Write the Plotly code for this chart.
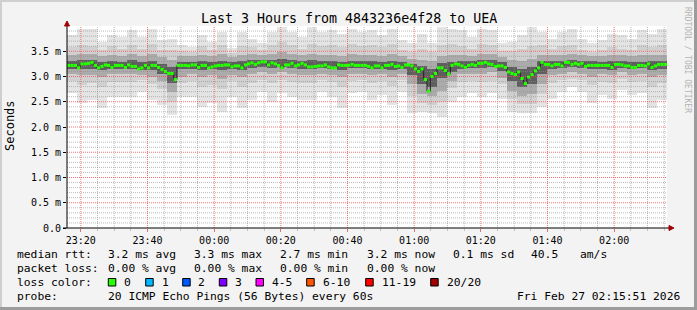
import plotly.graph_objects as go
import pandas as pd

# ---------------- data ----------------
START = "2026-02-26 23:15:51"
END = "2026-02-27 02:15:51"

# median RTT (ms), one value per minute (180 steps)
median_rtt = [
    3.22, 3.22, 3.22, 3.17, 3.25, 3.25, 3.26, 3.28, 3.22, 3.17,
    3.20, 3.23, 3.22, 3.18, 3.22, 3.22, 3.22, 3.18, 3.23, 3.20,
    3.20, 3.15, 3.17, 3.22, 3.17, 3.22, 3.22, 3.18, 3.14, 3.10,
    3.06, 3.06, 2.94, 3.22, 3.22, 3.22, 3.21, 3.23, 3.23, 3.18,
    3.22, 3.22, 3.17, 3.19, 3.21, 3.22, 3.22, 3.23, 3.23, 3.19,
    3.21, 3.21, 3.17, 3.23, 3.25, 3.27, 3.24, 3.27, 3.29, 3.29,
    3.23, 3.27, 3.25, 3.22, 3.17, 3.23, 3.23, 3.26, 3.21, 3.23,
    3.26, 3.23, 3.19, 3.19, 3.20, 3.21, 3.21, 3.23, 3.19, 3.17,
    3.17, 3.23, 3.22, 3.22, 3.22, 3.24, 3.22, 3.22, 3.22, 3.22,
    3.20, 3.17, 3.21, 3.21, 3.17, 3.22, 3.22, 3.24, 3.20, 3.21,
    3.18, 3.23, 3.23, 3.21, 3.15, 3.10, 3.15, 2.94, 2.71, 3.00,
    3.06, 3.17, 3.17, 3.12, 3.05, 3.22, 3.25, 3.24, 3.21, 3.18,
    3.22, 3.24, 3.22, 3.26, 3.26, 3.28, 3.25, 3.24, 3.20, 3.21,
    3.21, 3.18, 3.09, 3.06, 3.04, 3.09, 2.96, 2.86, 2.99, 3.04,
    3.11, 3.17, 3.28, 3.24, 3.24, 3.21, 3.24, 3.24, 3.21, 3.28,
    3.28, 3.24, 3.26, 3.24, 3.26, 3.20, 3.22, 3.22, 3.22, 3.22,
    3.22, 3.22, 3.22, 3.18, 3.24, 3.24, 3.23, 3.21, 3.21, 3.18,
    3.18, 3.22, 3.22, 3.21, 3.25, 3.18, 3.21, 3.24, 3.24, 3.24,
]

# smoke bands (ms), one value per 3-minute bin (60 bins)
smoke_max = [
    3.82, 3.95, 3.95, 3.69, 3.82, 3.79, 3.92, 3.79, 3.95, 3.72,
    3.75, 3.62, 3.59, 3.82, 3.69, 3.89, 3.56, 3.89, 3.75, 3.66,
    3.89, 3.98, 3.89, 3.79, 3.98, 3.89, 3.92, 3.85, 3.95, 3.89,
    3.92, 3.82, 3.95, 3.72, 3.66, 3.85, 3.66, 3.98, 3.95, 3.92,
    3.79, 3.94, 3.92, 3.66, 3.69, 3.82, 3.98, 3.89, 3.75, 3.89,
    3.94, 3.75, 3.66, 3.72, 3.85, 3.82, 3.75, 3.92, 3.85, 3.95,
]
smoke_min = [
    2.67, 2.47, 2.53, 2.37, 2.60, 2.60, 2.60, 2.70, 2.53, 2.43,
    2.23, 2.60, 2.60, 2.40, 2.47, 2.30, 2.60, 2.37, 2.53, 2.70,
    2.50, 2.67, 2.60, 2.53, 2.53, 2.70, 2.60, 2.37, 2.67, 2.70,
    2.53, 2.63, 2.43, 2.70, 2.27, 2.30, 2.27, 2.20, 2.50, 2.60,
    2.67, 2.60, 2.67, 2.56, 2.30, 2.27, 2.27, 2.40, 2.56, 2.70,
    2.80, 2.70, 2.47, 2.63, 2.56, 2.73, 2.63, 2.67, 2.37, 2.53,
]
smoke2_hi = [
    3.58, 3.62, 3.60, 3.52, 3.60, 3.55, 3.62, 3.55, 3.65, 3.52,
    3.52, 3.50, 3.48, 3.60, 3.52, 3.62, 3.46, 3.60, 3.58, 3.52,
    3.62, 3.68, 3.62, 3.55, 3.65, 3.60, 3.62, 3.58, 3.65, 3.60,
    3.62, 3.58, 3.65, 3.52, 3.48, 3.55, 3.48, 3.62, 3.65, 3.60,
    3.55, 3.65, 3.62, 3.50, 3.50, 3.55, 3.60, 3.62, 3.55, 3.60,
    3.62, 3.52, 3.48, 3.52, 3.58, 3.55, 3.52, 3.62, 3.58, 3.62,
]
smoke2_lo = [
    2.92, 2.84, 2.88, 2.80, 2.90, 2.90, 2.90, 2.94, 2.85, 2.75,
    2.50, 2.88, 2.92, 2.80, 2.84, 2.75, 2.92, 2.80, 2.88, 2.94,
    2.88, 2.94, 2.90, 2.88, 2.88, 2.94, 2.90, 2.80, 2.92, 2.94,
    2.88, 2.92, 2.82, 2.94, 2.62, 2.48, 2.44, 2.50, 2.78, 2.90,
    2.92, 2.90, 2.92, 2.85, 2.55, 2.45, 2.46, 2.65, 2.88, 2.94,
    2.96, 2.94, 2.84, 2.90, 2.88, 2.96, 2.90, 2.92, 2.80, 2.88,
]
smoke3_hi = [
    3.42, 3.45, 3.45, 3.40, 3.42, 3.40, 3.45, 3.40, 3.45, 3.38,
    3.32, 3.40, 3.40, 3.42, 3.40, 3.45, 3.38, 3.42, 3.45, 3.42,
    3.45, 3.48, 3.45, 3.42, 3.45, 3.42, 3.42, 3.40, 3.45, 3.42,
    3.42, 3.40, 3.45, 3.40, 3.35, 3.32, 3.30, 3.40, 3.42, 3.42,
    3.40, 3.45, 3.45, 3.38, 3.32, 3.30, 3.35, 3.42, 3.42, 3.42,
    3.45, 3.42, 3.40, 3.40, 3.42, 3.42, 3.40, 3.42, 3.42, 3.42,
]
smoke3_lo = [
    3.05, 3.02, 3.02, 3.00, 3.05, 3.05, 3.05, 3.02, 3.00, 2.92,
    2.70, 3.00, 3.05, 3.00, 3.02, 2.95, 3.02, 3.00, 3.05, 3.08,
    3.05, 3.08, 3.05, 3.02, 3.02, 3.05, 3.02, 3.00, 3.05, 3.05,
    3.02, 3.05, 3.00, 3.05, 2.85, 2.65, 2.62, 2.72, 2.92, 3.05,
    3.05, 3.05, 3.08, 2.98, 2.72, 2.62, 2.65, 2.85, 3.02, 3.05,
    3.08, 3.05, 3.00, 3.05, 3.02, 3.08, 3.02, 3.05, 3.00, 3.02,
]
smoke4_hi = [
    3.30, 3.32, 3.33, 3.28, 3.30, 3.29, 3.32, 3.28, 3.30, 3.25,
    3.18, 3.28, 3.29, 3.30, 3.28, 3.31, 3.28, 3.30, 3.33, 3.32,
    3.33, 3.35, 3.32, 3.30, 3.32, 3.30, 3.30, 3.28, 3.31, 3.30,
    3.30, 3.29, 3.31, 3.29, 3.25, 3.20, 3.15, 3.26, 3.28, 3.30,
    3.30, 3.32, 3.33, 3.28, 3.18, 3.15, 3.18, 3.30, 3.30, 3.30,
    3.33, 3.31, 3.30, 3.29, 3.30, 3.30, 3.29, 3.29, 3.30, 3.30,
]
smoke4_lo = [
    3.15, 3.14, 3.15, 3.12, 3.15, 3.14, 3.15, 3.12, 3.13, 3.05,
    2.88, 3.14, 3.15, 3.12, 3.14, 3.12, 3.14, 3.12, 3.16, 3.18,
    3.17, 3.18, 3.16, 3.14, 3.14, 3.16, 3.14, 3.12, 3.16, 3.16,
    3.14, 3.14, 3.13, 3.15, 3.02, 2.85, 2.80, 2.98, 3.08, 3.15,
    3.16, 3.16, 3.18, 3.10, 2.92, 2.80, 2.85, 3.05, 3.15, 3.16,
    3.18, 3.17, 3.14, 3.15, 3.13, 3.16, 3.14, 3.16, 3.13, 3.15,
]

y_tick_vals = [0.0, 0.5, 1.0, 1.5, 2.0, 2.5, 3.0, 3.5]
y_tick_text = ["0.0", "0.5 m", "1.0 m", "1.5 m", "2.0 m", "2.5 m", "3.0 m", "3.5 m"]

title_text = "Last 3 Hours from 4843236e4f28 to UEA"
rtt_items = ["3.2 ms avg", "3.3 ms max", "2.7 ms min", "3.2 ms now", "0.1 ms sd", "40.5", "am/s"]
loss_items = ["0.00 % avg", "0.00 % max", "0.00 % min", "0.00 % now"]
loss_labels = ["0", "1", "2", "3", "4-5", "6-10", "11-19", "20/20"]
loss_colors = ["#26ff00", "#00b8ff", "#0059ff", "#7e00ff", "#ff00ff", "#ff5500", "#ff0000", "#a10000"]
probe_text = "20 ICMP Echo Pings (56 Bytes) every 60s"
stamp_text = "Fri Feb 27 02:15:51 2026"

# ---------------- layout helpers ----------------
W, H = 697, 310
PL, PR, PT, PB = 67, 667, 26, 228   # plot area in pixels
YMAX = 4.0
MONO = "DejaVu Sans Mono"


def px(x):
    return (x - PL) / (PR - PL)


def py(y):
    return (PB - y) / (PB - PT)


t0 = pd.Timestamp(START)
t1 = pd.Timestamp(END)
edges = [t0 + pd.Timedelta(minutes=i) for i in range(len(median_rtt) + 1)]
centers = [t0 + pd.Timedelta(seconds=180 * b + 90) for b in range(len(smoke_max))]

fig = go.Figure()

# smoke layers (outer -> inner)
bands = [
    (smoke_min, smoke_max, "#e4e4e4"),
    (smoke2_lo, smoke2_hi, "#d0d0d0"),
    (smoke3_lo, smoke3_hi, "#ababab"),
    (smoke4_lo, smoke4_hi, "#5e5e5e"),
]
for lo, hi, col in bands:
    fig.add_trace(go.Bar(
        x=centers, base=lo, y=[h - l for h, l in zip(hi, lo)],
        width=180000, marker=dict(color=col, line=dict(width=0)),
        hoverinfo="skip", showlegend=False,
    ))


# grid drawn above smoke (as rrdtool does)
def vlines(times):
    xs, ys = [], []
    for t in times:
        xs += [t, t, None]
        ys += [0, YMAX, None]
    return xs, ys


def hlines(vals):
    xs, ys = [], []
    for v in vals:
        xs += [t0, t1, None]
        ys += [v, v, None]
    return xs, ys


major_t = list(pd.date_range("2026-02-26 23:20:00", END, freq="20min"))
minor_t = [t for t in pd.date_range("2026-02-26 23:20:00", END, freq="5min") if t not in major_t]
major_v = [v for v in y_tick_vals if v > 0]
minor_v = [k / 10 for k in range(1, 40) if k % 5 != 0]

GRAY = "rgba(140,140,140,0.6)"
RED = "rgba(240,80,80,0.8)"
for (gx, gy), col in [(hlines(minor_v), GRAY), (vlines(minor_t), GRAY),
                      (hlines(major_v), RED), (vlines(major_t), RED)]:
    fig.add_trace(go.Scatter(x=gx, y=gy, mode="lines", line=dict(color=col, width=1, dash="1px,1px"),
                             hoverinfo="skip", showlegend=False))

# median: thin dark step line + green (0 % loss) segments
fig.add_trace(go.Scatter(
    x=edges, y=median_rtt + [median_rtt[-1]], mode="lines",
    line=dict(color="#202020", width=1, shape="hv"),
    hoverinfo="skip", showlegend=False,
))
mx, my = [], []
for i, v in enumerate(median_rtt):
    mx += [edges[i], edges[i + 1], None]
    my += [v, v, None]
fig.add_trace(go.Scatter(
    x=mx, y=my, mode="lines", line=dict(color=loss_colors[0], width=3),
    hoverinfo="skip", showlegend=False,
))

# ---------------- shapes ----------------
shapes = []
shapes.append(dict(type="line", xref="paper", yref="paper", x0=px(67), x1=px(67), y0=py(228), y1=py(25),
                   line=dict(color="#000000", width=1)))
shapes.append(dict(type="line", xref="paper", yref="paper", x0=px(63), x1=px(670), y0=py(228), y1=py(228),
                   line=dict(color="#000000", width=1)))
shapes.append(dict(type="path", xref="paper", yref="paper",
                   path=f"M {px(64.5)},{py(26)} L {px(69.5)},{py(26)} L {px(67)},{py(21)} Z",
                   fillcolor="#a00000", line=dict(color="#a00000", width=1)))
shapes.append(dict(type="path", xref="paper", yref="paper",
                   path=f"M {px(669)},{py(225.5)} L {px(669)},{py(230.5)} L {px(674)},{py(228)} Z",
                   fillcolor="#a00000", line=dict(color="#a00000", width=1)))
# frame
shapes.append(dict(type="line", xref="paper", yref="paper", x0=px(0), x1=px(W), y0=py(1), y1=py(1),
                   line=dict(color="#cfcfcf", width=2)))
shapes.append(dict(type="line", xref="paper", yref="paper", x0=px(1), x1=px(1), y0=py(0), y1=py(H),
                   line=dict(color="#cfcfcf", width=2)))
shapes.append(dict(type="line", xref="paper", yref="paper", x0=px(0), x1=px(W), y0=py(H - 1.5), y1=py(H - 1.5),
                   line=dict(color="#9c9c9c", width=3)))
shapes.append(dict(type="line", xref="paper", yref="paper", x0=px(W - 1.5), x1=px(W - 1.5), y0=py(0), y1=py(H),
                   line=dict(color="#9c9c9c", width=3)))

# ---------------- annotations ----------------
ann = []


def text(x, y, s, size=11.3, anchor="left", color="#000000", angle=0, family=MONO):
    ann.append(dict(x=px(x), y=py(y), xref="paper", yref="paper", text=s, showarrow=False,
                    xanchor=anchor, yanchor="middle", textangle=angle, borderpad=0,
                    font=dict(family=family, size=size, color=color)))


text(348.5, 19, title_text, size=13.3, anchor="center")
text(10, 126, "Seconds", size=12, anchor="center", angle=-90)
text(688, 60, "RRDTOOL / TOBI OETIKER", size=8, anchor="center", angle=90, color="#b4b4b4")

text(16, 254, "median rtt:")
for x, s in zip([107.3, 193.3, 279.3, 365.7, 451.7, 530, 579.3], rtt_items):
    text(x, 254, s)
text(16, 268, "packet loss:")
for x, s in zip([107.3, 193.3, 279.3, 365.7], loss_items):
    text(x, 268, s)
text(16, 282, "loss color:")
box_x = [108.3, 145.7, 182.7, 219.3, 256, 306.7, 365.7, 430.7]
lab_x = [123.3, 160.7, 197.3, 234.3, 270.7, 321.7, 380.7, 445.7]
for bx, lx, lab, col in zip(box_x, lab_x, loss_labels, loss_colors):
    shapes.append(dict(type="rect", xref="paper", yref="paper", x0=px(bx), x1=px(bx + 7.5),
                       y0=py(278.5), y1=py(286), fillcolor=col, line=dict(color="#000000", width=1)))
    text(lx, 282, lab)
text(16, 296, "probe:")
text(107.3, 296, probe_text)
text(681, 296, stamp_text, anchor="right")

# ---------------- layout ----------------
fig.update_layout(
    width=W, height=H,
    margin=dict(l=PL, r=W - PR, t=PT, b=H - PB, pad=0),
    paper_bgcolor="#f3f3f3", plot_bgcolor="#ffffff",
    barmode="overlay", bargap=0, showlegend=False, hovermode=False,
    shapes=shapes, annotations=ann,
    xaxis=dict(
        type="date", range=[t0, t1], tickformat="%H:%M",
        tick0="2026-02-26 23:20:00", dtick=1200000,
        ticks="outside", ticklen=3, tickcolor="#e07070",
        tickfont=dict(family=MONO, size=10, color="#000000"),
        showgrid=False, zeroline=False, showline=False, fixedrange=True,
        minor=dict(dtick=300000, tick0="2026-02-26 23:20:00", ticks="outside", ticklen=2,
                   tickcolor="#c0c0c0", showgrid=False),
    ),
    yaxis=dict(
        range=[0, YMAX], tickvals=y_tick_vals, ticktext=y_tick_text,
        ticks="outside", ticklen=3, tickcolor="#000000",
        tickfont=dict(family=MONO, size=10, color="#000000"),
        showgrid=False, zeroline=False, showline=False, fixedrange=True,
    ),
)

fig.write_html("out.html", config={"displayModeBar": False})
